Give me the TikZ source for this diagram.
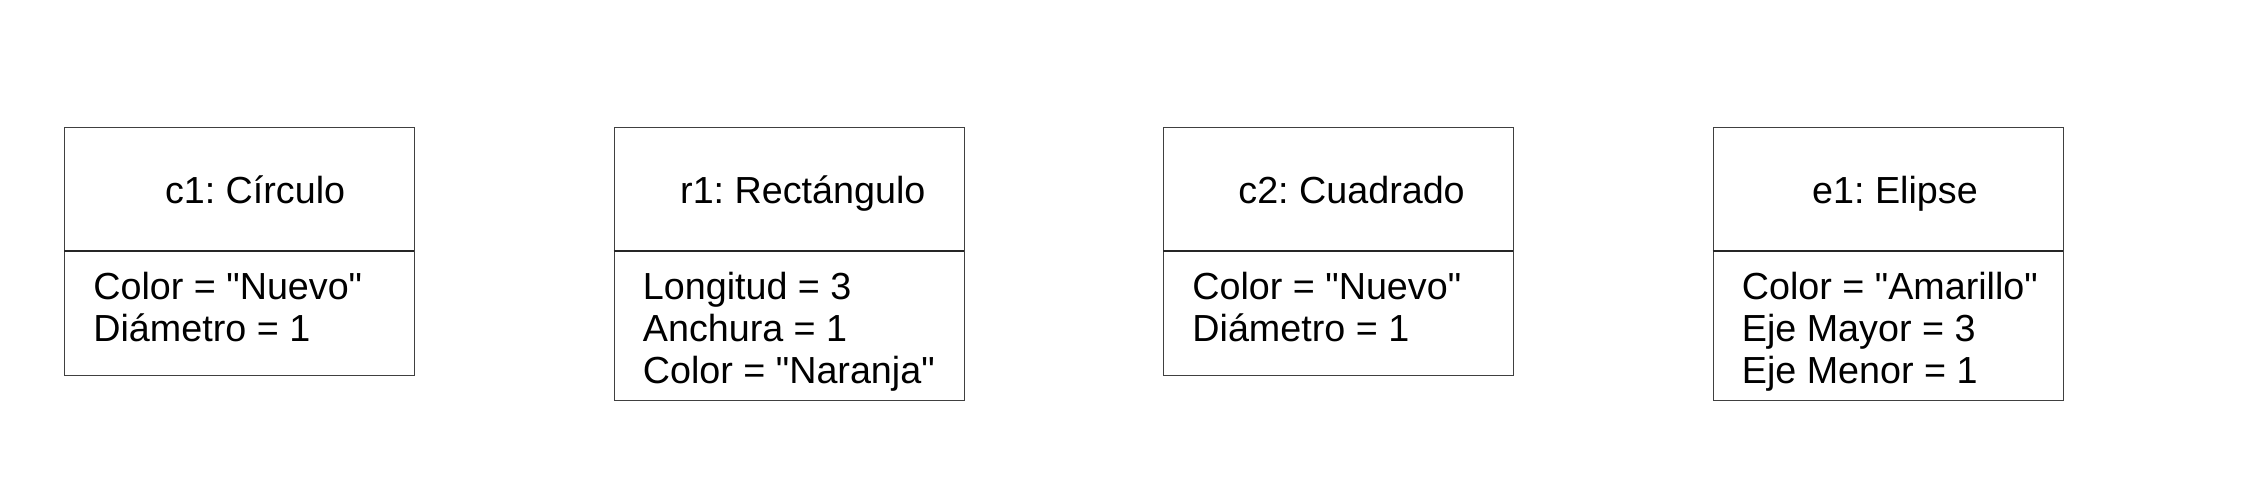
\documentclass[tikz,border=0pt]{standalone}
\usepackage{fontspec}
\newfontfamily\arialfont{Liberation Sans}
\begin{document}
\frenchspacing
\begin{tikzpicture}[x=0.5pt,y=-0.5pt,
  objbox/.style={draw=black!75, line width=0.7pt, fill=none, inner sep=0pt, anchor=north west, minimum width=175pt},
  shortbox/.style={objbox, minimum height=124pt},
  tallbox/.style={objbox, minimum height=136.5pt},
  divline/.style={draw=black!85, line width=0.7pt},
  txt/.style={inner sep=0pt, anchor=base west, font=\arialfont\fontsize{18.85pt}{21pt}\selectfont}]
\useasboundingbox (0,0) rectangle (2244,484);
% boxes
\node[shortbox] (b1) at (64,127) {};
\node[tallbox]  (b2) at (613.5,127) {};
\node[shortbox] (b3) at (1163,127) {};
\node[tallbox]  (b4) at (1712.5,127) {};
% dividers
\coordinate (d1l) at (64,251);   \coordinate (d1r) at (414,251);
\coordinate (d2l) at (613.5,251);\coordinate (d2r) at (963.5,251);
\coordinate (d3l) at (1163,251); \coordinate (d3r) at (1513,251);
\coordinate (d4l) at (1712.5,251);\coordinate (d4r) at (2062.5,251);
\draw[divline] (d1l) -- (d1r);
\draw[divline] (d2l) -- (d2r);
\draw[divline] (d3l) -- (d3r);
\draw[divline] (d4l) -- (d4r);
% titles
\node[txt] (t1) at (164.6,203) {c1: Círculo};
\node[txt] (t2) at (679.8,203) {r1: Rectángulo};
\node[txt] (t3) at (1238,203) {c2: Cuadrado};
\node[txt] (t4) at (1811.8,203) {e1: Elipse};
% attributes
\node[txt] (a11) at (93,299) {Color = "Nuevo"};
\node[txt] (a12) at (93,341) {Diámetro = 1};
\node[txt] (a21) at (642.5,299) {Longitud = 3};
\node[txt] (a22) at (642.5,341) {Anchura = 1};
\node[txt] (a23) at (642.5,383) {Color = "Naranja"};
\node[txt] (a31) at (1192,299) {Color = "Nuevo"};
\node[txt] (a32) at (1192,341) {Diámetro = 1};
\node[txt] (a41) at (1741.5,299) {Color = "Amarillo"};
\node[txt] (a42) at (1741.5,341) {Eje Mayor = 3};
\node[txt] (a43) at (1741.5,383) {Eje Menor = 1};
\end{tikzpicture}
\end{document}
